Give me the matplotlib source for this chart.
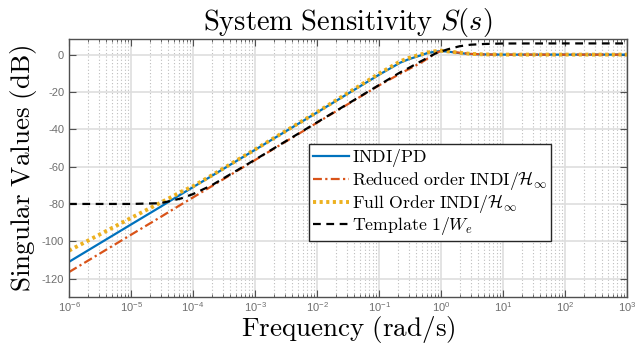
import matplotlib
matplotlib.use("Agg")
import matplotlib.pyplot as plt
from matplotlib.ticker import LogLocator, NullFormatter, FixedLocator

plt.rcParams['mathtext.fontset'] = 'cm'
plt.rcParams['axes.unicode_minus'] = False
plt.rcParams['font.family'] = ['Liberation Sans', 'DejaVu Sans']

# frequency grid (rad/s) and singular values (dB)
freq = [1e-6, 1e-5, 3e-5, 4.3e-5, 6.5e-5, 1e-4, 2e-4, 1e-3, 1e-2, 0.1, 0.22,
        0.3, 0.46, 0.6, 0.8, 1.0, 1.3, 2.0, 3.0, 5.0, 10.0, 100.0, 1000.0]
indi_pd = [-111, -91, -81.5, -78.3, -74.7, -71, -65, -51, -31, -10.8, -4.3,
           -2.5, -0.5, 0.8, 1.6, 1.9, 1.6, 0.8, 0.3, 0.1, 0.0, 0.0, 0.0]
reduced = [-116.5, -96.5, -87.0, -83.8, -80.2, -76.5, -70.5, -56.5, -36.5, -16.5, -10.2,
           -7.8, -4.6, -2.2, 0.6, 2.0, 1.7, 1.0, 0.4, 0.1, 0.0, 0.0, 0.0]
full_order = [-105, -87.5, -79.3, -76.6, -73.4, -70.5, -64.7, -50.8, -30.8, -10.2, -3.6,
              -1.8, 0.0, 1.1, 1.8, 2.1, 1.7, 1.0, 0.4, 0.1, 0.0, 0.0, 0.0]
template = [-80, -80, -79.6, -78.4, -77.0, -74.7, -70.0, -56.3, -36.3, -16.3, -9.5,
            -7.2, -3.8, -1.8, 0.5, 1.7, 2.9, 4.5, 5.3, 5.7, 5.95, 6.0, 6.0]

labels = [r'$\mathrm{INDI/PD}$',
          r'$\mathrm{Reduced\ order\ INDI/}\mathcal{H}_\infty$',
          r'$\mathrm{Full\ Order\ INDI/}\mathcal{H}_\infty$',
          r'$\mathrm{Template\ }1/W_e$']

styles = [dict(color='#0072BD', lw=1.6, ls='-'),
          dict(color='#D95319', lw=1.6, ls=(0, (4, 1.5, 1, 1.5))),
          dict(color='#EDB120', lw=2.8, ls=(0, (0.8, 0.9))),
          dict(color='black', lw=1.6, ls=(0, (3.5, 2.5)))]

fig = plt.figure(figsize=(6.38, 3.58), dpi=100)
ax = fig.add_axes([0.1082, 0.1696, 0.8746, 0.7206])

for vals, lab, st in zip([indi_pd, reduced, full_order, template], labels, styles):
    ax.semilogx(freq, vals, label=lab, **st)

ax.set_xlim(1e-6, 1e3)
ax.set_ylim(-130, 8.2)
ax.yaxis.set_major_locator(FixedLocator([-120, -100, -80, -60, -40, -20, 0]))
ax.xaxis.set_major_locator(LogLocator(base=10, numticks=20))
ax.xaxis.set_minor_locator(LogLocator(base=10, subs=range(2, 10), numticks=20))
ax.xaxis.set_minor_formatter(NullFormatter())

ax.grid(True, which='major', color='#dedede', lw=1.2, ls='-')
ax.grid(True, which='minor', axis='x', color='#bdbdbd', lw=0.8, ls=(0, (1, 2)))
ax.set_axisbelow(True)

spine_c = '#505050'
for s in ax.spines.values():
    s.set_color(spine_c)
    s.set_linewidth(1.0)
ax.tick_params(which='both', direction='in', top=True, right=True, colors=spine_c,
               labelcolor='#6e6e6e', labelsize=8)
ax.tick_params(which='major', length=5)
ax.tick_params(which='minor', length=2.5)
ax.tick_params(axis='x', pad=2)

ax.set_title(r'$\mathrm{System\ Sensitivity\ } S(s)$', fontsize=20.5, pad=3)
ax.set_xlabel(r'$\mathrm{Frequency\ (rad/s)}$', fontsize=19.5, labelpad=0)
ax.set_ylabel(r'$\mathrm{Singular\ Values\ (dB)}$', fontsize=19.5, labelpad=2)

leg = ax.legend(loc='lower right', bbox_to_anchor=(0.864, 0.218), borderaxespad=0,
                prop={'size': 12.8}, fancybox=False, framealpha=1,
                edgecolor='#262626', handlelength=2.0, handletextpad=0.2,
                labelspacing=0.0, borderpad=0.2)
leg.get_frame().set_linewidth(1.0)

fig.savefig('out.png', dpi=100)
